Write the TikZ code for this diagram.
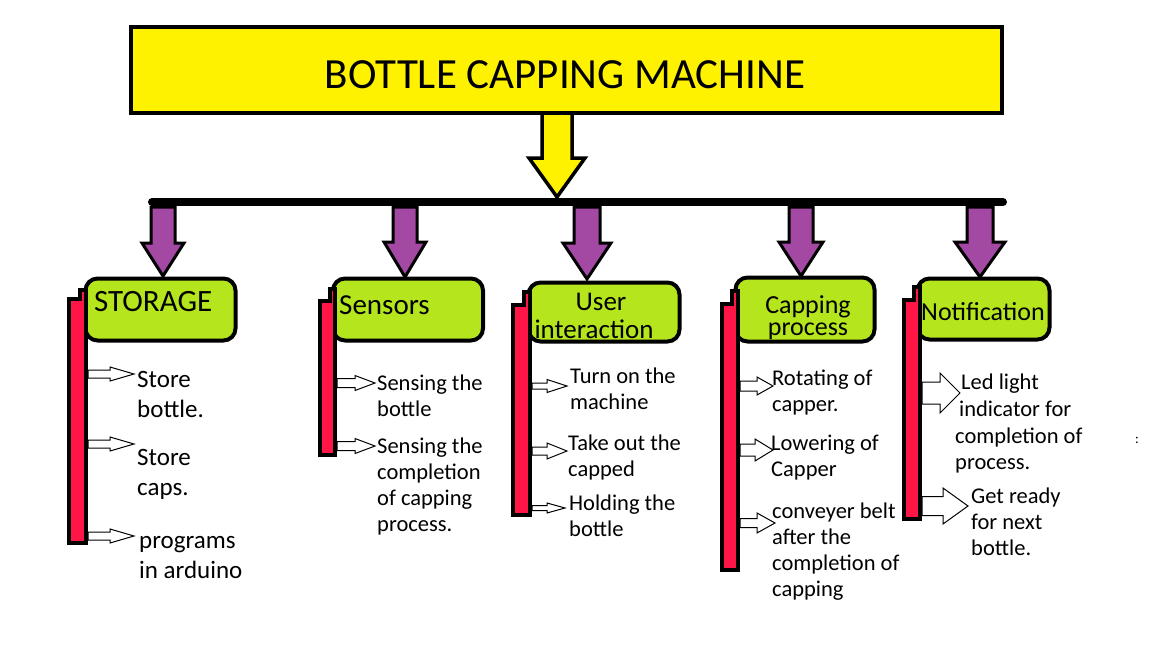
\documentclass[tikz,border=0pt]{standalone}
\usepackage{fontspec}
\setmainfont{Carlito}
\definecolor{ttlyellow}{HTML}{FFF200}
\definecolor{limegreen}{HTML}{B5E61D}
\definecolor{purp}{HTML}{A349A4}
\definecolor{barred}{HTML}{FF1546}
\newcommand\vblockarrow[7]{% style, x, ytop, ytip, shaft half, head half, head y
  \draw[#1] ({#2-#5},#3) -- ({#2+#5},#3) -- ({#2+#5},#7) -- ({#2+#6},#7) -- (#2,#4) -- ({#2-#6},#7) -- ({#2-#5},#7) -- cycle;}
\newcommand\hblockarrow[7]{% style, y, xstart, xtip, shaft half, head half, head x
  \draw[#1] (#3,{#2-#5}) -- (#7,{#2-#5}) -- (#7,{#2-#6}) -- (#4,#2) -- (#7,{#2+#6}) -- (#7,{#2+#5}) -- (#3,{#2+#5}) -- cycle;}
\tikzset{
  titlebox/.style={draw=black, line width=4.5, fill=ttlyellow, inner sep=0},
  greenbox/.style={draw=black, line width=4, fill=limegreen, rounded corners=12, inner sep=0},
  purparrow/.style={draw=black, line width=3, fill=purp, line join=miter},
  yelarrow/.style={draw=black, line width=3.5, fill=ttlyellow, line join=miter},
  hollow/.style={draw=black, line width=1, fill=white},
  redbar/.style={draw=black, line width=4, fill=barred},
  boxlabel/.style={anchor=base west, inner sep=0},
  bodytext/.style={anchor=base west, align=left, inner sep=0, font=\fontsize{22.5}{26.3}\selectfont},
  storetext/.style={anchor=base west, align=left, inner sep=0, font=\fontsize{25}{30.5}\selectfont},
}
\begin{document}
\begin{tikzpicture}[x=1pt,y=-1pt]
\useasboundingbox (0,0) rectangle (1152,648);
\fill[white] (0,0) rectangle (1152,648);

% title
\node[titlebox, minimum width=871, minimum height=86] (title) at (566.5,70) {};
\node[anchor=base, inner sep=0, font=\fontsize{43}{50}\selectfont] (titletext) at (565,88) {BOTTLE CAPPING MACHINE};

% yellow arrow
\vblockarrow{yelarrow}{557}{113}{197}{15}{28}{158}

% horizontal bar
\coordinate (barL) at (152,202);
\coordinate (barR) at (1003,202);
\draw[line width=8, line cap=round] (barL) -- (barR);

% purple arrows
\vblockarrow{purparrow}{163}{207}{276}{12}{21}{243}
\vblockarrow{purparrow}{405}{207}{277}{12}{21}{242}
\vblockarrow{purparrow}{587}{207}{279}{13}{24}{243}
\vblockarrow{purparrow}{801}{207}{276}{12}{22}{242}
\vblockarrow{purparrow}{980}{207}{277}{13}{25}{242}

% green boxes
\node[greenbox, minimum width=150, minimum height=62] (storage) at (160.5,309.5) {};
\node[greenbox, minimum width=150, minimum height=62] (sensors) at (408,309.5) {};
\node[greenbox, minimum width=151, minimum height=59] (user) at (604,312) {};
\node[greenbox, minimum width=139, minimum height=64] (capping) at (805,309.5) {};
\node[greenbox, minimum width=132, minimum height=61] (notif) at (983.5,309) {};

\node[boxlabel, font=\fontsize{31}{36}\selectfont] (storagelbl) at (94,311) {STORAGE};
\node[boxlabel, font=\fontsize{29}{34}\selectfont] (sensorslbl) at (339,314) {Sensors};
\node[anchor=base, inner sep=0, font=\fontsize{27}{28}\selectfont] (userlbl1) at (601,310) {User};
\node[anchor=base, inner sep=0, font=\fontsize{27}{28}\selectfont] (userlbl2) at (594,338) {interaction};
\node[anchor=base, inner sep=0, font=\fontsize{26}{22}\selectfont] (caplbl1) at (808,313) {Capping};
\node[anchor=base, inner sep=0, font=\fontsize{26}{22}\selectfont] (caplbl2) at (808,335) {process};
\node[boxlabel, font=\fontsize{26}{30}\selectfont] (notiflbl) at (921,320) {Notification};

% red bars
\draw[redbar] (69,299) -- (80,299) -- (80,290) -- (86,290) -- (86,543) -- (69,543) -- cycle;
\draw[redbar] (320,301) -- (330,301) -- (330,289) -- (335,289) -- (335,455) -- (320,455) -- cycle;
\draw[redbar] (513,305) -- (524,305) -- (524,292) -- (530,292) -- (530,515) -- (513,515) -- cycle;
\draw[redbar] (722,304) -- (732,304) -- (732,291) -- (738,291) -- (738,570) -- (722,570) -- cycle;
\draw[redbar] (904,300) -- (914,300) -- (914,287) -- (920,287) -- (920,519) -- (904,519) -- cycle;

% hollow arrows: storage
\hblockarrow{hollow}{374}{88}{134}{4}{7}{110}
\hblockarrow{hollow}{444}{88}{134}{4}{7}{110}
\hblockarrow{hollow}{536}{88}{134}{4}{7}{110}
% sensors
\hblockarrow{hollow}{383}{337}{375}{4.5}{7.5}{355}
\hblockarrow{hollow}{446}{337}{375}{4.5}{7.5}{355}
% user
\hblockarrow{hollow}{386}{532}{567}{3}{6.5}{547}
\hblockarrow{hollow}{451}{532}{567}{4}{8}{547}
\hblockarrow{hollow}{508}{532}{565}{2.5}{5}{547}
% capping
\hblockarrow{hollow}{386}{740}{773}{5}{9}{757}
\hblockarrow{hollow}{450}{740}{773}{6}{11}{755}
\hblockarrow{hollow}{523}{740}{775}{4.5}{10}{757}
% notification
\hblockarrow{hollow}{393}{922}{960}{11}{20}{940}
\hblockarrow{hollow}{506}{922}{968}{9.5}{18}{943}

% texts (base anchor = baseline of the last line)
\node[storetext] (s1) at (137,417.5) {Store\\bottle.};
\node[storetext] (s2) at (137,495.5) {Store\\caps.};
\node[storetext] (s3) at (139,578.5) {programs\\in arduino};

\node[bodytext] (n1) at (377,416.3) {Sensing the\\bottle};
\node[bodytext] (n2) at (377,531.9) {Sensing the\\completion\\of capping\\process.};

\node[bodytext] (u1) at (570,409.3) {Turn on the\\machine};
\node[bodytext] (u2) at (568,476.3) {Take out the\\capped};
\node[bodytext] (u3) at (569,536.3) {Holding the\\bottle};

\node[bodytext] (c1) at (772,411.3) {Rotating of\\capper.};
\node[bodytext] (c2) at (771,476.3) {Lowering of\\Capper};
\node[bodytext] (c3) at (772,596.9) {conveyer belt\\after the\\completion of\\capping};

\node[bodytext] (t1) at (961,389) {Led light};
\node[bodytext] (t2) at (959,416) {indicator for};
\node[bodytext] (t3) at (955,469.3) {completion of\\process.};
\node[bodytext] (t4) at (971,555.6) {Get ready\\for next\\bottle.};
\node[inner sep=0, font=\fontsize{14}{16}\selectfont] (colon) at (1137,440) {:};
\end{tikzpicture}
\end{document}
